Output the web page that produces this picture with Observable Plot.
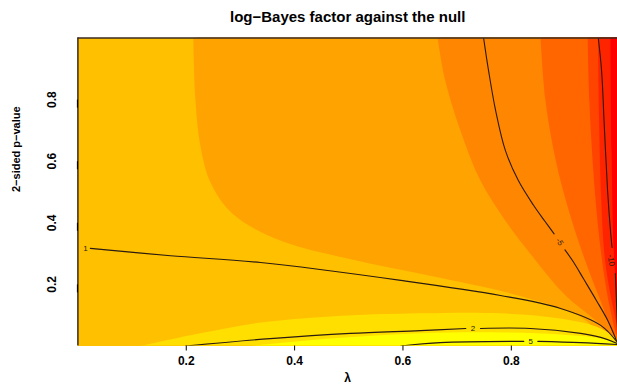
<!DOCTYPE html>
<html><head><meta charset="utf-8">
<script src="https://cdn.jsdelivr.net/npm/d3@7"></script>
<script src="https://cdn.jsdelivr.net/npm/@observablehq/plot@0.6"></script>
<style>body{margin:0;background:#fff}</style>
</head><body><div id="chart"></div>
<script>
const title = "log\u2212Bayes factor against the null";
const xLabel = "\u03bb";
const yLabel = "2\u2212sided p\u2212value";
const xTicks = [0.2, 0.4, 0.6, 0.8];
const yTicks = [0.2, 0.4, 0.6, 0.8];
const xMax = 0.996;

// band colours (heat palette)
const bandColors = ["#FF0000", "#FF2400", "#FF4400", "#FF6600", "#FF8600", "#FFA300", "#FFC000", "#FFDF00", "#FFFF00"];

// band boundaries [lambda, p]
const edge7to6 = [[0.213,1],[0.217,0.797],[0.226,0.650],[0.245,0.530],[0.285,0.430],[0.370,0.345],[0.500,0.283],[0.650,0.228],[0.800,0.170],[0.920,0.102],[0.996,0.018]];
const edge6to5 = [[0.664,1],[0.678,0.862],[0.706,0.700],[0.743,0.537],[0.789,0.407],[0.845,0.278],[0.900,0.164],[0.956,0.083],[0.996,0.018]];
const edge5to4 = [[0.854,1],[0.863,0.797],[0.882,0.602],[0.906,0.440],[0.933,0.294],[0.961,0.164],[0.996,0.024]];
const edge4to3 = [[0.941,1],[0.944,0.797],[0.950,0.602],[0.959,0.407],[0.970,0.245],[0.983,0.115],[0.996,0.034]];
const edge3to2 = [[0.960,1],[0.962,0.732],[0.966,0.472],[0.973,0.278],[0.989,0.115],[0.996,0.067]];
const edge2to1 = [[0.983,1],[0.985,0.635],[0.989,0.310],[0.996,0.148]];
const edge7to8 = [[0.116,0],[0.226,0.041],[0.337,0.076],[0.466,0.096],[0.632,0.106],[0.780,0.106],[0.891,0.089],[0.965,0.057],[0.996,0.018]];
const edge8to9 = [[0.319,0],[0.466,0.024],[0.632,0.041],[0.780,0.044],[0.891,0.037],[0.965,0.024],[0.996,0.008]];

// contour lines [lambda, p]
const contour1 = [[0.023,0.317],[0.171,0.293],[0.337,0.271],[0.596,0.213],[0.780,0.164],[0.891,0.122],[0.965,0.067],[0.996,0.011]];
const contour2a = [[0.199,0],[0.355,0.024],[0.503,0.041],[0.632,0.050],[0.716,0.057]];
const contour2b = [[0.743,0.057],[0.835,0.057],[0.928,0.041],[0.965,0.028],[0.996,0.008]];
const contour5a = [[0.596,0],[0.669,0.011],[0.823,0.015]];
const contour5b = [[0.849,0.015],[0.928,0.011],[0.996,0.005]];
const contourM5a = [[0.749,0.998],[0.758,0.894],[0.771,0.765],[0.789,0.635],[0.813,0.537],[0.841,0.457],[0.862,0.405],[0.879,0.364]];
const contourM5b = [[0.899,0.312],[0.915,0.272],[0.933,0.219],[0.957,0.148],[0.978,0.083],[0.994,0.018]];
const contourM10a = [[0.9605,1],[0.9666,0.894],[0.972,0.700],[0.9777,0.505],[0.983,0.375],[0.986,0.320]];
const contourM10b = [[0.992,0.235],[0.994,0.148],[0.996,0.050]];

const labelText = ["1", "2", "5", "-5", "-10"];
const labelLambda = [0.014, 0.729, 0.836, 0.889, 0.984];
const labelP = [0.317, 0.057, 0.015, 0.338, 0.278];
const labelAngle = [0, 0, 0, 58, 82];

// polygons: region to the right of a boundary, region below a boundary
const rightOf = (edge) => [...edge, [xMax, 1], edge[0]];
const below = (edge) => [...edge, [xMax, 0], edge[0]];

const fills = [
  [rightOf(edge7to6), bandColors[5]],
  [rightOf(edge6to5), bandColors[4]],
  [rightOf(edge5to4), bandColors[3]],
  [rightOf(edge4to3), bandColors[2]],
  [rightOf(edge3to2), bandColors[1]],
  [rightOf(edge2to1), bandColors[0]],
  [below(edge7to8), bandColors[7]],
  [below(edge8to9), bandColors[8]]
];

const lines = [contour1, contour2a, contour2b, contour5a, contour5b, contourM5a, contourM5b, contourM10a, contourM10b];
const labels = labelText.map((t, i) => ({t, x: labelLambda[i], y: labelP[i], a: labelAngle[i]}));

const chart = Plot.plot({
  width: 617,
  height: 390,
  marginLeft: 77.4,
  marginRight: 0,
  marginTop: 37.5,
  marginBottom: 44.5,
  style: {fontFamily: "'Liberation Sans', Arial, sans-serif", fontSize: "12px", fontWeight: "bold", background: "#fff"},
  x: {domain: [0, xMax]},
  y: {domain: [0, 1]},
  marks: [
    Plot.frame({fill: bandColors[6], stroke: "none"}),
    ...fills.map(([poly, c]) => Plot.line(poly, {x: d => d[0], y: d => d[1], fill: c, stroke: "none", curve: "catmull-rom", clip: true})),
    ...lines.map(l => Plot.line(l, {x: d => d[0], y: d => d[1], stroke: "#2a1a10", strokeWidth: 1.1, curve: "catmull-rom", clip: true})),
    Plot.text(labels, {x: "x", y: "y", text: "t", rotate: "a", fontSize: 8, fontWeight: "normal", fill: "#2a1a10"}),
    Plot.ruleX([0], {stroke: "#3a2a20", strokeWidth: 1.5}),
    Plot.ruleY([1], {stroke: "#3a2a20", strokeWidth: 1.5}),
    Plot.axisX({ticks: xTicks, tickSize: 5, tickPadding: 5, tickFormat: d => d.toFixed(1), label: null, fontSize: 12}),
    Plot.axisY({ticks: yTicks, tickSize: 8, tickPadding: 18, tickFormat: d => d.toFixed(1), label: null, rotate: -90, textAnchor: "middle", fontSize: 12}),
    Plot.text([title], {frameAnchor: "top", dy: -27, fontSize: 15, fontWeight: "bold", letterSpacing: "1px"}),
    Plot.text([xLabel], {frameAnchor: "bottom", dy: 36, fontSize: 12, fontWeight: "bold"}),
    Plot.text([yLabel], {frameAnchor: "left", dx: -61, rotate: -90, fontSize: 11, fontWeight: "bold"})
  ]
});
document.getElementById("chart").appendChild(chart);
</script>
</body></html>
